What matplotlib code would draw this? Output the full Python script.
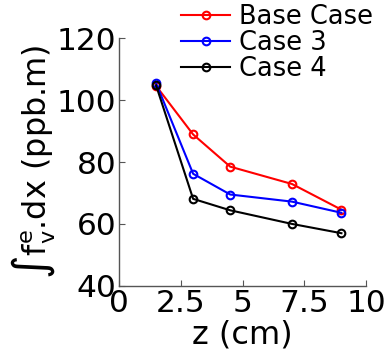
import numpy as np
import matplotlib.pyplot as plt

# data
z = [1.5, 3.0, 4.5, 7.0, 9.0]
base_case = [104.6, 88.9, 78.5, 72.9, 64.6]
case3 = [105.5, 76.2, 69.5, 67.2, 63.6]
case4 = [104.8, 68.1, 64.4, 60.0, 57.0]
labels = ["Base Case", "Case 3", "Case 4"]
colors = ["red", "blue", "black"]

plt.rcParams['font.family'] = ['DejaVu Sans']
plt.rcParams['mathtext.fontset'] = 'dejavusans'

fig = plt.figure(figsize=(3.85, 3.6), dpi=100)
ax = fig.add_axes([0.309, 0.206, 0.642, 0.688])

for vals, lab, col in zip([base_case, case3, case4], labels, colors):
    ax.plot(z, vals, color=col, lw=1.5, marker='o', ms=5.5,
            mfc='none', mec=col, mew=1.5, label=lab)

ax.set_xlim(0, 10)
ax.set_ylim(40, 120)
ax.set_xticks([0, 2.5, 5, 7.5, 10])
ax.set_xticklabels(["0", "2.5", "5", "7.5", "10"])
ax.set_yticks([40, 60, 80, 100, 120])

for s in ['top', 'right']:
    ax.spines[s].set_visible(False)
for s in ['left', 'bottom']:
    ax.spines[s].set_color('#555555')
    ax.spines[s].set_linewidth(1.0)
ax.tick_params(direction='in', length=4, color='#555555', labelsize=22.5, pad=2)

ax.set_xlabel("z (cm)", fontsize=23, labelpad=1)
ax.set_ylabel(r"$\int\mathrm{f}^\mathrm{e}_\mathrm{v}$.dx (ppb.m)", fontsize=23, labelpad=0)

ax.legend(loc='upper right', bbox_to_anchor=(1.07, 1.18), frameon=False,
          fontsize=18.5, handlelength=1.9, handletextpad=0.35,
          labelspacing=0.0, borderaxespad=0)

fig.savefig("out.png", dpi=100)
